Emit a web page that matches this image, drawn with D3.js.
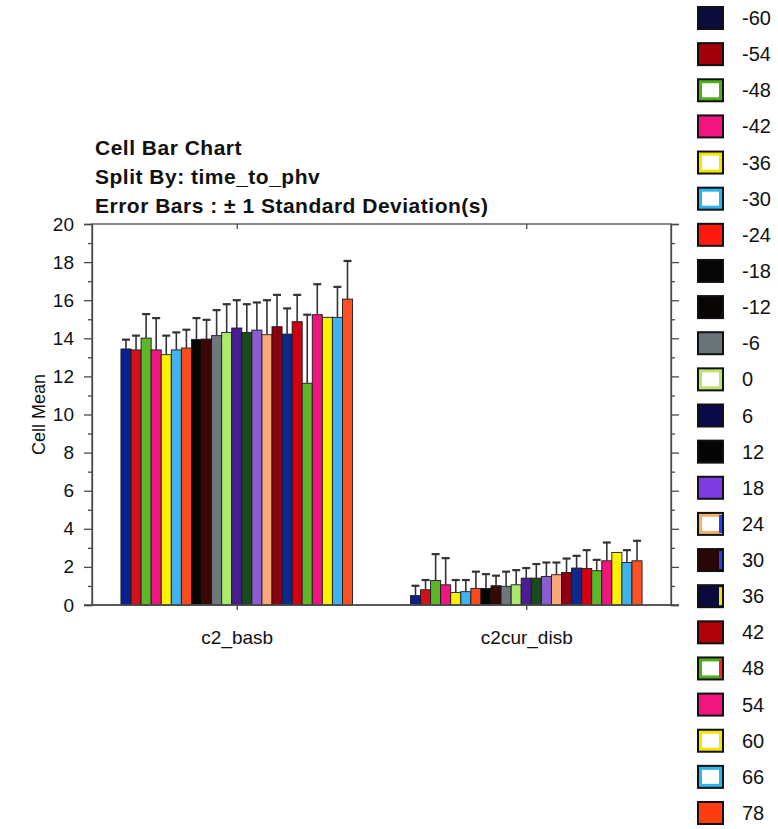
<!DOCTYPE html>
<html>
<head>
<meta charset="utf-8">
<script src="https://cdn.jsdelivr.net/npm/d3@7"></script>
<style>
  html, body { margin: 0; padding: 0; background: #fff; }
  svg { display: block; font-family: "Liberation Sans", Arial, sans-serif; }
</style>
</head>
<body>
<svg id="chart" width="778" height="829"></svg>
<script>
// Variables on the x axis
const categories = ["c2_basb", "c2cur_disb"];

// Split groups (time_to_phv)
const groups = ["-60", "-54", "-48", "-42", "-36", "-30", "-24", "-18", "-12", "-6",
                "0", "6", "12", "18", "24", "30", "36", "42", "48", "54", "60", "66", "78"];

// Cell means per group, one array per variable
const meansBasb = [13.44, 13.39, 14.01, 13.39, 13.14, 13.39, 13.49, 13.94, 13.96, 14.14,
                   14.31, 14.54, 14.31, 14.43, 14.19, 14.61, 14.22, 14.87, 11.64, 15.24,
                   15.10, 15.10, 16.06];
const meansCurDisb = [0.49, 0.80, 1.29, 1.06, 0.66, 0.70, 0.87, 0.87, 1.01, 0.98,
                      1.06, 1.41, 1.41, 1.50, 1.59, 1.71, 1.94, 1.92, 1.80, 2.32,
                      2.76, 2.23, 2.32];

// Standard deviations (upper error bar length)
const sdBasb = [0.49, 0.75, 1.26, 1.67, 1.00, 0.92, 0.96, 1.12, 1.01, 1.34,
                1.48, 1.46, 1.48, 1.45, 1.81, 1.67, 1.35, 1.41, 3.60, 1.60,
                0.00, 1.60, 2.00];
const sdCurDisb = [0.52, 0.51, 1.38, 1.40, 0.65, 0.61, 0.88, 0.75, 0.53, 0.77,
                   0.77, 0.53, 0.74, 0.73, 0.64, 0.73, 0.64, 0.96, 0.57, 0.96,
                   0.00, 0.65, 1.05];

// Axis ticks
const yTicks = [0, 2, 4, 6, 8, 10, 12, 14, 16, 18, 20];
const yMinorTicks = [1, 3, 5, 7, 9, 11, 13, 15, 17, 19];

// Titles
const titleLines = ["Cell Bar Chart", "Split By: time_to_phv", "Error Bars : \u00b1 1 Standard Deviation(s)"];
const yAxisTitle = "Cell Mean";

// Bar fill colours, in group order
const barColors = ["#0b2190", "#d2101e", "#5cb82a", "#f0167f", "#fff200", "#42b2ee", "#ff4b1c",
                   "#060606", "#3a0709", "#6e777c", "#abe86c", "#4b1d92", "#1b4a1c", "#8c5cd2",
                   "#f8a97a", "#8a0012", "#0c2a8c", "#d00012", "#5cb82a", "#f0167f", "#fff200",
                   "#42b2ee", "#ff5222"];

// Legend swatch styles: solid fill, or a coloured ring around a white centre, with an optional edge accent
const legendSwatches = [
  { fill: "#0b0b3c" }, { fill: "#a0000a" }, { ring: "#4cb01c" }, { fill: "#f0157f" },
  { ring: "#f2e600" }, { ring: "#2cb4ec" }, { fill: "#ff1a10" }, { fill: "#060606" },
  { fill: "#0a0505" }, { fill: "#687478" }, { ring: "#bce468" }, { fill: "#0a0a48" },
  { fill: "#050505" }, { fill: "#7e3ce0" }, { ring: "#f2b070", accent: "#2040ff" },
  { fill: "#2a0606", accent: "#2040ff" }, { fill: "#0a0a3c", accent: "#f2e600" },
  { fill: "#b0000a" }, { ring: "#4cb01c", accent: "#ff2020" }, { fill: "#f0157f" },
  { ring: "#f2e600" }, { ring: "#2cb4ec" }, { fill: "#ff3c10" }
];

const means = [meansBasb, meansCurDisb];
const sds = [sdBasb, sdCurDisb];

const svg = d3.select("#chart");
const plot = { left: 92, right: 671, top: 224, bottom: 605 };

const x0 = d3.scaleBand().domain(categories)
  .range([plot.left, plot.right]).paddingInner(0.2).paddingOuter(0.1);
const x1 = d3.scaleBand().domain(groups).range([0, x0.bandwidth()]);
const y = d3.scaleLinear().domain([0, 20]).range([plot.bottom, plot.top]);

const axisColor = "#4a4a4a";

// Titles
svg.append("g").selectAll("text").data(titleLines).join("text")
  .attr("x", 95).attr("y", (d, i) => 155 + i * 29)
  .attr("font-size", 21).attr("font-weight", "bold").attr("letter-spacing", 0.5)
  .attr("fill", "#111")
  .text(d => d);

// Bars
const rows = [];
categories.forEach((c, ci) => {
  groups.forEach((g, gi) => {
    rows.push({ cat: c, group: g, gi, mean: means[ci][gi], sd: sds[ci][gi] });
  });
});

const barG = svg.append("g");
barG.selectAll("rect").data(rows).join("rect")
  .attr("x", d => x0(d.cat) + x1(d.group))
  .attr("y", d => y(d.mean))
  .attr("width", x1.bandwidth())
  .attr("height", d => y(0) - y(d.mean))
  .attr("fill", d => barColors[d.gi])
  .attr("stroke", "#1a1a1a").attr("stroke-width", 0.9);

// Upper error bars
const errG = svg.append("g").attr("stroke", "#333").attr("stroke-width", 1.6);
const withErr = rows.filter(d => d.sd > 0);
errG.selectAll("line.stem").data(withErr).join("line").attr("class", "stem")
  .attr("x1", d => x0(d.cat) + x1(d.group) + x1.bandwidth() / 2)
  .attr("x2", d => x0(d.cat) + x1(d.group) + x1.bandwidth() / 2)
  .attr("y1", d => y(d.mean)).attr("y2", d => y(d.mean + d.sd));
errG.selectAll("line.cap").data(withErr).join("line").attr("class", "cap")
  .attr("stroke-width", 2.2)
  .attr("x1", d => x0(d.cat) + x1(d.group) + x1.bandwidth() / 2 - 4)
  .attr("x2", d => x0(d.cat) + x1(d.group) + x1.bandwidth() / 2 + 4)
  .attr("y1", d => y(d.mean + d.sd)).attr("y2", d => y(d.mean + d.sd));

// Frame
svg.append("rect")
  .attr("x", plot.left).attr("y", plot.top)
  .attr("width", plot.right - plot.left).attr("height", plot.bottom - plot.top)
  .attr("fill", "none").attr("stroke", axisColor).attr("stroke-width", 1.3);

// Left axis: major ticks with labels, minor ticks without
const leftAxis = svg.append("g").attr("transform", `translate(${plot.left},0)`)
  .call(d3.axisLeft(y).tickValues(yTicks).tickSize(8).tickPadding(10).tickFormat(d3.format("d")));
leftAxis.select(".domain").attr("stroke", axisColor).attr("stroke-width", 1.3);
leftAxis.selectAll(".tick line").attr("stroke", axisColor).attr("stroke-width", 1.3);
leftAxis.selectAll(".tick text").attr("font-size", 19).attr("fill", "#111")
  .attr("font-family", "'Liberation Sans', Arial, sans-serif");
svg.append("g").attr("transform", `translate(${plot.left},0)`)
  .call(d3.axisLeft(y).tickValues(yMinorTicks).tickSize(4).tickFormat(""))
  .call(g => g.select(".domain").remove())
  .selectAll(".tick line").attr("stroke", axisColor).attr("stroke-width", 1.3);

// Right axis: ticks only, pointing outward
svg.append("g").attr("transform", `translate(${plot.right},0)`)
  .call(d3.axisRight(y).tickValues(yTicks).tickSize(8).tickFormat(""))
  .call(g => g.select(".domain").attr("stroke", axisColor).attr("stroke-width", 1.3))
  .selectAll(".tick line").attr("stroke", axisColor).attr("stroke-width", 1.3);
svg.append("g").attr("transform", `translate(${plot.right},0)`)
  .call(d3.axisRight(y).tickValues(yMinorTicks).tickSize(4).tickFormat(""))
  .call(g => g.select(".domain").remove())
  .selectAll(".tick line").attr("stroke", axisColor).attr("stroke-width", 1.3);

// Bottom axis with category labels
const xAxisScale = d3.scalePoint().domain(categories)
  .range([x0(categories[0]) + x0.bandwidth() / 2, x0(categories[1]) + x0.bandwidth() / 2]);
const bottomAxis = svg.append("g").attr("transform", `translate(0,${plot.bottom})`)
  .call(d3.axisBottom(xAxisScale).tickSize(5).tickPadding(21).tickSizeOuter(0));
bottomAxis.select(".domain").remove();
bottomAxis.selectAll(".tick line").attr("stroke", axisColor).attr("stroke-width", 1.3);
bottomAxis.selectAll(".tick text").attr("font-size", 19).attr("fill", "#111")
  .attr("font-family", "'Liberation Sans', Arial, sans-serif");
svg.append("line").attr("x1", plot.left - 8).attr("x2", plot.right + 8)
  .attr("y1", plot.bottom).attr("y2", plot.bottom)
  .attr("stroke", axisColor).attr("stroke-width", 1.3);

// Top axis ticks at the category centres
svg.append("g").attr("transform", `translate(0,${plot.top})`)
  .call(d3.axisTop(xAxisScale).tickSize(-5).tickFormat("").tickSizeOuter(0))
  .call(g => g.select(".domain").remove())
  .selectAll(".tick line").attr("stroke", axisColor).attr("stroke-width", 1.3);

// Y axis title
svg.append("text")
  .attr("transform", `translate(45,${(plot.top + plot.bottom) / 2}) rotate(-90)`)
  .attr("text-anchor", "middle").attr("font-size", 18).attr("fill", "#111")
  .text(yAxisTitle);

// Legend
const legendY = d3.scalePoint().domain(groups).range([18, 813]);
const legend = svg.append("g");
const item = legend.selectAll("g").data(groups).join("g")
  .attr("transform", d => `translate(698,${legendY(d)})`);
item.each(function (d, i) {
  const s = legendSwatches[i];
  const g = d3.select(this);
  g.append("rect").attr("x", 0).attr("y", -11).attr("width", 25).attr("height", 22)
    .attr("fill", s.fill || s.ring).attr("stroke", "#111").attr("stroke-width", 2);
  if (s.ring) {
    g.append("rect").attr("x", 4).attr("y", -7).attr("width", 17).attr("height", 14)
      .attr("fill", "#fff");
  }
  if (s.accent) {
    g.append("rect").attr("x", 21).attr("y", -9).attr("width", 3).attr("height", 18)
      .attr("fill", s.accent);
  }
});
item.append("text").attr("x", 44).attr("y", 7)
  .attr("font-size", 20).attr("fill", "#111")
  .text(d => d);
</script>
</body>
</html>
